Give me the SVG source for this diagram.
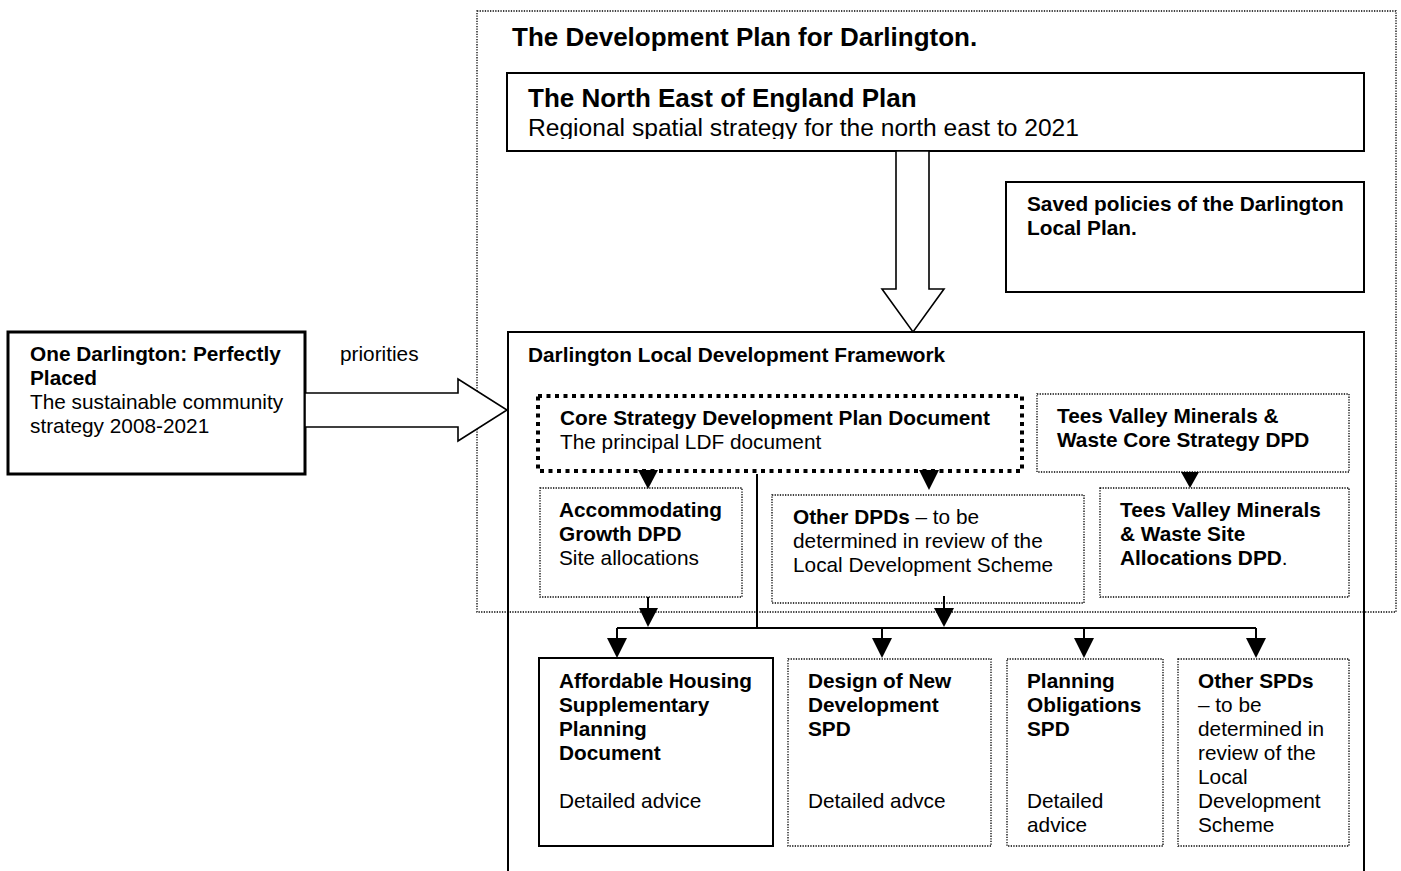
<svg xmlns="http://www.w3.org/2000/svg" width="1401" height="871" viewBox="0 0 1401 871">
<style>
text{font-family:"Liberation Sans",Arial,sans-serif;font-size:20.8px;fill:#000}
.b{font-weight:bold}
.t1{font-size:26px;font-weight:bold}
.t2{font-size:24.6px}
.solid{fill:none;stroke:#000;stroke-width:2}
.thick{fill:none;stroke:#000;stroke-width:3}
.dot{fill:none;stroke:#000;stroke-width:1.3;stroke-dasharray:1.3 1.3}
.bigdot{fill:none;stroke:#000;stroke-width:4;stroke-dasharray:4 4.5}
.big{fill:#fff;stroke:#000;stroke-width:1.6}
.ln{fill:none;stroke:#000;stroke-width:2}
.ah{fill:#000}
</style>
<defs>
<clipPath id="neclip"><rect x="507" y="60" width="857" height="79"/></clipPath>
</defs>
<rect width="1401" height="871" fill="#fff"/>

<g id="ldf">
<rect class="solid" x="508" y="332" width="856" height="570"/>
<text class="b" x="528" y="362">Darlington Local Development Framework</text>
</g>

<g id="devplan">
<rect class="dot" x="477" y="11" width="919" height="601"/>
<text class="t1" x="512" y="46">The Development Plan for Darlington.</text>
</g>

<g id="nee">
<rect class="solid" x="507" y="73" width="857" height="78"/>
<text class="t1" x="528" y="107">The North East of England Plan</text>
<text class="t2" x="528" y="136" clip-path="url(#neclip)">Regional spatial strategy for the north east to 2021</text>
</g>

<g id="saved">
<rect class="solid" x="1006" y="182" width="358" height="110"/>
<text class="b" x="1027" y="211">Saved policies of the Darlington</text>
<text class="b" x="1027" y="235">Local Plan.</text>
</g>

<g id="onedarlington">
<rect class="thick" x="8" y="332" width="297" height="142"/>
<text class="b" x="30" y="361">One Darlington: Perfectly</text>
<text class="b" x="30" y="385">Placed</text>
<text x="30" y="409">The sustainable community</text>
<text x="30" y="433">strategy 2008-2021</text>
</g>

<g id="core">
<rect class="bigdot" x="538" y="396" width="484" height="75"/>
<text class="b" x="560" y="425">Core Strategy Development Plan Document</text>
<text x="560" y="449">The principal LDF document</text>
</g>

<g id="teescore">
<rect class="dot" x="1037" y="394" width="312" height="78"/>
<text class="b" x="1057" y="423">Tees Valley Minerals &amp;</text>
<text class="b" x="1057" y="447">Waste  Core Strategy DPD</text>
</g>

<g id="accom">
<rect class="dot" x="540" y="488" width="202" height="109"/>
<text class="b" x="559" y="517">Accommodating</text>
<text class="b" x="559" y="541">Growth DPD</text>
<text x="559" y="565">Site allocations</text>
</g>

<g id="otherdpd">
<rect class="dot" x="772" y="495" width="312" height="108"/>
<text x="793" y="524"><tspan class="b">Other DPDs</tspan> – to be</text>
<text x="793" y="548">determined in review of the</text>
<text x="793" y="572">Local Development Scheme</text>
</g>

<g id="teessite">
<rect class="dot" x="1100" y="488" width="249" height="109"/>
<text class="b" x="1120" y="517">Tees Valley Minerals</text>
<text class="b" x="1120" y="541">&amp; Waste Site</text>
<text x="1120" y="565"><tspan class="b">Allocations DPD</tspan>.</text>
</g>

<g id="affordable">
<rect class="solid" x="539" y="658" width="234" height="188"/>
<text class="b" x="559" y="688">Affordable Housing</text>
<text class="b" x="559" y="712">Supplementary</text>
<text class="b" x="559" y="736">Planning</text>
<text class="b" x="559" y="760">Document</text>
<text x="559" y="808">Detailed advice</text>
</g>

<g id="design">
<rect class="dot" x="788" y="659" width="203" height="187"/>
<text class="b" x="808" y="688">Design of New</text>
<text class="b" x="808" y="712">Development</text>
<text class="b" x="808" y="736">SPD</text>
<text x="808" y="808">Detailed advce</text>
</g>

<g id="obligations">
<rect class="dot" x="1007" y="659" width="156" height="187"/>
<text class="b" x="1027" y="688">Planning</text>
<text class="b" x="1027" y="712">Obligations</text>
<text class="b" x="1027" y="736">SPD</text>
<text x="1027" y="808">Detailed</text>
<text x="1027" y="832">advice</text>
</g>

<g id="otherspd">
<rect class="dot" x="1178" y="659" width="171" height="187"/>
<text class="b" x="1198" y="688">Other SPDs</text>
<text x="1198" y="712">– to be</text>
<text x="1198" y="736">determined in</text>
<text x="1198" y="760">review of the</text>
<text x="1198" y="784">Local</text>
<text x="1198" y="808">Development</text>
<text x="1198" y="832">Scheme</text>
</g>

<g id="connectors">
<polygon class="big" points="896,151 896,289 882,289 913,332 944,289 929,289 929,151"/>
<polygon class="big" points="305,393 458,393 458,379 507,410 458,441 458,427 305,427"/>
<text x="340" y="361">priorities</text>
<polygon class="ah" points="638,470 658,470 648,489"/>
<polygon class="ah" points="919,470 939,470 929,490"/>
<polygon class="ah" points="1181,472 1199,472 1190,488"/>
<line class="ln" x1="757" y1="474" x2="757" y2="628"/>
<line class="ln" x1="617" y1="628" x2="1256" y2="628"/>
<line class="ln" x1="648" y1="597" x2="648" y2="610"/>
<polygon class="ah" points="639,608 658,608 648,627"/>
<line class="ln" x1="944" y1="596" x2="944" y2="610"/>
<polygon class="ah" points="934,608 954,608 944,627"/>
<line class="ln" x1="617" y1="628" x2="617" y2="640"/>
<polygon class="ah" points="607,638 627,638 617,658"/>
<line class="ln" x1="882" y1="628" x2="882" y2="640"/>
<polygon class="ah" points="872,638 892,638 882,658"/>
<line class="ln" x1="1084" y1="628" x2="1084" y2="640"/>
<polygon class="ah" points="1074,638 1094,638 1084,658"/>
<line class="ln" x1="1256" y1="628" x2="1256" y2="640"/>
<polygon class="ah" points="1246,638 1266,638 1256,658"/>
</g>
</svg>
